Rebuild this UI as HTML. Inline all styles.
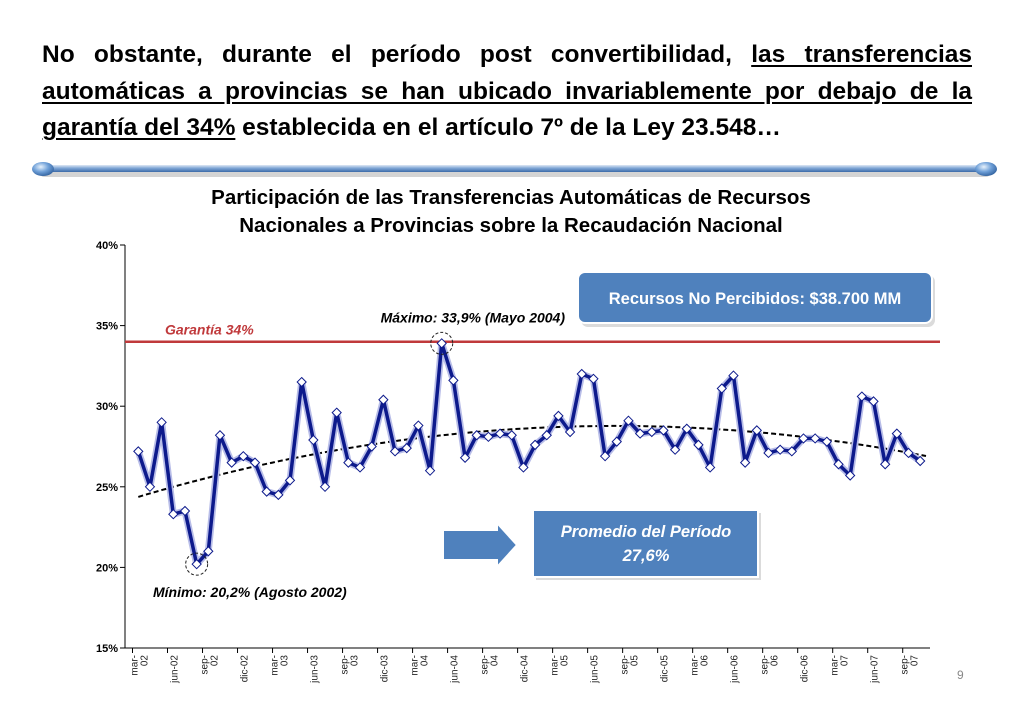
<!DOCTYPE html>
<html><head><meta charset="utf-8"><style>
body{margin:0;width:1023px;height:708px;background:#fff;overflow:hidden;position:relative;font-family:"Liberation Sans",sans-serif}
#headline{position:absolute;left:42px;top:37px;width:930px;font-size:24.5px;font-weight:bold;line-height:36.5px;text-align:justify;text-align-last:left;color:#000}
#headline u{text-decoration-thickness:2px;text-underline-offset:3px}
svg{position:absolute;left:0;top:0}
</style></head><body>
<div id="headline">No obstante, durante el período post convertibilidad, <u>las transferencias automáticas a provincias se han ubicado invariablemente por debajo de la garantía del 34%</u> establecida en el artículo 7º de la Ley 23.548…</div>
<svg id="chart" width="1023" height="708" font-family="Liberation Sans, DejaVu Sans, sans-serif">
<defs>
<linearGradient id="bar" x1="0" y1="0" x2="0" y2="1"><stop offset="0" stop-color="#dfe9f5"/><stop offset="0.45" stop-color="#7fa6d6"/><stop offset="1" stop-color="#3c6aa8"/></linearGradient>
<radialGradient id="knob" cx="0.4" cy="0.35" r="0.7"><stop offset="0" stop-color="#e8f2fc"/><stop offset="0.5" stop-color="#6fa0d8"/><stop offset="1" stop-color="#2f5f9c"/></radialGradient>
</defs>
<g>
<rect x="40" y="169" width="950" height="8" rx="4" fill="#aaa" opacity="0.5"/>
<rect x="38" y="165" width="952" height="7" rx="3.5" fill="url(#bar)"/>
<ellipse cx="43" cy="169" rx="11" ry="7" fill="url(#knob)"/>
<ellipse cx="986" cy="169" rx="11" ry="7" fill="url(#knob)"/>
</g>
<text x="511" y="204" text-anchor="middle" font-size="20.5" font-weight="bold">Participación de las Transferencias Automáticas de Recursos</text>
<text x="511" y="232" text-anchor="middle" font-size="20.5" font-weight="bold">Nacionales a Provincias sobre la Recaudación Nacional</text>
<g id="axes"></g>
<g id="marks"></g>
<g>
<rect x="581" y="275" width="354" height="52" rx="7" fill="#999" opacity="0.35"/>
<rect x="578" y="272" width="354" height="51" rx="7" fill="#4f81bd" stroke="#fff" stroke-width="2"/>
<text x="755" y="304" text-anchor="middle" font-size="16.5" font-weight="bold" fill="#fff">Recursos No Percibidos: $38.700 MM</text>
</g>
<path d="M443 530 H497 V523 L517 545 L497 567 V560 H443 Z" fill="#4f81bd" stroke="#fff" stroke-width="2"/>
<g>
<rect x="536" y="513" width="225" height="67" fill="#999" opacity="0.35"/>
<rect x="533" y="510" width="225" height="67" fill="#4f81bd" stroke="#fff" stroke-width="2"/>
<text x="646" y="537" text-anchor="middle" font-size="16.5" font-weight="bold" font-style="italic" fill="#fff">Promedio del Período</text>
<text x="646" y="561" text-anchor="middle" font-size="16.5" font-weight="bold" font-style="italic" fill="#fff">27,6%</text>
</g>
<text x="957" y="679" font-size="12" fill="#888">9</text>
</svg>
<script>
const months=["ene","feb","mar","abr","may","jun","jul","ago","sep","oct","nov","dic"];
const values=[27.2,25.0,29.0,23.3,23.5,20.2,21.0,28.2,26.5,26.9,26.5,24.7,24.5,25.4,31.5,27.9,25.0,29.6,26.5,26.2,27.5,30.4,27.2,27.4,28.8,26.0,33.9,31.6,26.8,28.2,28.1,28.3,28.2,26.2,27.6,28.2,29.4,28.4,32.0,31.7,26.9,27.8,29.1,28.3,28.4,28.5,27.3,28.6,27.6,26.2,31.1,31.9,26.5,28.5,27.1,27.3,27.2,28.0,28.0,27.8,26.4,25.7,30.6,30.3,26.4,28.3,27.1,26.6];
const yTicks=[15,20,25,30,35,40];
const guarantee=34;
const startMonth=2, startYear=2002;
const NS="http://www.w3.org/2000/svg";
const x0=138.3, dx=11.67;
const xs=i=>x0+i*dx;
const ys=v=>245+(40-v)*16.12;
function mk(tag,attrs,parent){const e=document.createElementNS(NS,tag);for(const k in attrs)e.setAttribute(k,attrs[k]);parent.appendChild(e);return e;}
const axes=document.getElementById('axes'),marks=document.getElementById('marks');
let a=mk('line',{x1:125,y1:ys(40),x2:125,y2:ys(15),stroke:'#000','stroke-width':1},axes);


a=mk('line',{x1:125,y1:ys(15),x2:930,y2:ys(15),stroke:'#000','stroke-width':1},axes);


yTicks.forEach(t=>{
  mk('line',{x1:120,x2:125,y1:ys(t),y2:ys(t),stroke:'#000'},axes);
  const tx=mk('text',{x:118,y:ys(t)+4,'text-anchor':'end','font-size':11,'font-weight':'bold'},axes);
  tx.textContent=t+'%';
  
  
});
for(let i=0;i<values.length;i+=3){
  const m=(startMonth+i)%12, y=startYear+Math.floor((startMonth+i)/12);
  const x=xs(i);
  mk('line',{x1:x-5.8,x2:x-5.8,y1:ys(15),y2:ys(15)+5,stroke:'#000'},axes);
  const yy=String(y).slice(2);
  const g=mk('text',{transform:`translate(${x},655) rotate(-90)`,'text-anchor':'end','font-size':10,fill:'#222'},axes);
  
  
  const name=months[m];
  if(name==='jun'||name==='dic'){ const s=mk('tspan',{x:0,dy:4},g); s.textContent=name+'-'+yy; }
  else { const s1=mk('tspan',{x:0,dy:-1},g); s1.textContent=name+'-'; const s2=mk('tspan',{x:0,dy:10},g); s2.textContent=yy; }
}
let gl=mk('line',{x1:125,x2:940,y1:ys(guarantee),y2:ys(guarantee),stroke:'#c0393b','stroke-width':2.5},marks);


let gt=mk('text',{x:165,y:ys(guarantee)-7,'font-size':14,'font-weight':'bold','font-style':'italic',fill:'#c0393b'},marks);
gt.textContent='Garantía 34%';


(function(){
  let n=values.length,S=[0,0,0,0,0],T=[0,0,0];
  values.forEach((v,i)=>{for(let k=0;k<5;k++)S[k]+=Math.pow(i,k);for(let k=0;k<3;k++)T[k]+=v*Math.pow(i,k);});
  const M=[[S[0],S[1],S[2],T[0]],[S[1],S[2],S[3],T[1]],[S[2],S[3],S[4],T[2]]];
  for(let c=0;c<3;c++){for(let r=c+1;r<3;r++){const f=M[r][c]/M[c][c];for(let k=c;k<4;k++)M[r][k]-=f*M[c][k];}}
  const b=[0,0,0];for(let r=2;r>=0;r--){let s=M[r][3];for(let k=r+1;k<3;k++)s-=M[r][k]*b[k];b[r]=s/M[r][r];}
  let d='';for(let i=0;i<n;i+=0.5){const v=b[0]+b[1]*i+b[2]*i*i;d+=(i?'L':'M')+xs(i).toFixed(1)+' '+ys(v).toFixed(1);}
  const p=mk('path',{d,fill:'none',stroke:'#000','stroke-width':2,'stroke-dasharray':'5 3'},marks);
  
  
})();
let d='';values.forEach((v,i)=>{d+=(i?'L':'M')+xs(i).toFixed(1)+' '+ys(v).toFixed(1);});
mk('path',{d,fill:'none',stroke:'#b8bde8','stroke-width':7,'stroke-linejoin':'round'},marks);
const line=mk('path',{d,fill:'none',stroke:'#0d1a8c','stroke-width':3.5,'stroke-linejoin':'round'},marks);


values.forEach((v,i)=>{
  const x=xs(i),y=ys(v);
  const p=mk('path',{d:`M${x} ${y-4.5}L${x+4.5} ${y}L${x} ${y+4.5}L${x-4.5} ${y}Z`,fill:'#fff',stroke:'#0d1a8c','stroke-width':1},marks);
  
  
});
let imax=values.indexOf(Math.max(...values)),imin=values.indexOf(Math.min(...values));
[[imax,'max-circle'],[imin,'min-circle']].forEach(([i,n])=>{
  const c=mk('circle',{cx:xs(i),cy:ys(values[i]),r:11,fill:'none',stroke:'#222','stroke-width':1,'stroke-dasharray':'3 2'},marks);
  
  
});
let mt=mk('text',{x:565,y:ys(values[imax])-21,'text-anchor':'end','font-size':14,'font-weight':'bold','font-style':'italic'},marks);
mt.textContent='Máximo: 33,9% (Mayo 2004)';


let nt=mk('text',{x:153,y:ys(values[imin])+33,'font-size':14,'font-weight':'bold','font-style':'italic'},marks);
nt.textContent='Mínimo: 20,2% (Agosto 2002)';


</script>
</body></html>
